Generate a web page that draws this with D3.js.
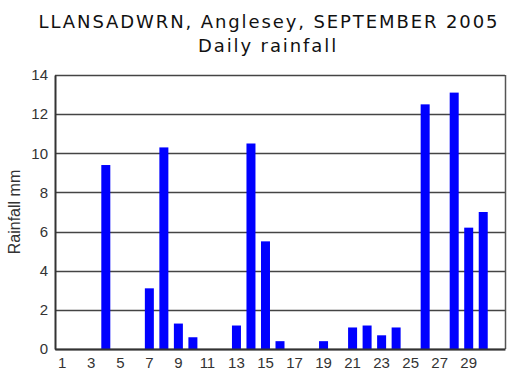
<!DOCTYPE html>
<html>
<head>
<meta charset="utf-8">
<script src="https://cdn.jsdelivr.net/npm/d3@7"></script>
<style>
  body { margin: 0; background: #fff; }
</style>
</head>
<body>
<script>
// daily rainfall, Sept 2005 (mm); days with no rain are 0
const days = d3.range(1, 32);
const rain = [0, 0, 0, 9.4, 0, 0, 3.1, 10.3, 1.3, 0.6,
              0, 0, 1.2, 10.5, 5.5, 0.4, 0, 0, 0.4, 0,
              1.1, 1.2, 0.7, 1.1, 0, 12.5, 0, 13.1, 6.2, 7.0, 0];
const yTicks = [0, 2, 4, 6, 8, 10, 12, 14];
const xLabels = d3.range(1, 30, 2);

const width = 532;
const height = 378;
const margin = {top: 75, right: 27, bottom: 29, left: 55};

const svg = d3.select("body").append("svg")
    .attr("width", width)
    .attr("height", height);

const titleStyle = sel => sel
    .attr("text-anchor", "middle")
    .style("font-family", "DejaVu Sans, Verdana, sans-serif")
    .style("font-size", "18px")
    .style("letter-spacing", "1.9px")
    .style("fill", "#111");

svg.append("text")
    .attr("x", 269).attr("y", 28)
    .call(titleStyle)
    .text("LLANSADWRN, Anglesey, SEPTEMBER 2005");

svg.append("text")
    .attr("x", 268).attr("y", 52)
    .call(titleStyle)
    .text("Daily rainfall");

const g = svg.append("g")
    .attr("transform", `translate(${margin.left}, ${margin.top})`);

const w = width - margin.left - margin.right;
const h = height - margin.top - margin.bottom;

const xscale = d3.scaleBand()
    .domain(days)
    .range([0, w])
    .paddingInner(0.38)
    .paddingOuter(0.19);

const yscale = d3.scaleLinear()
    .domain([0, 14])
    .range([h, 0]);

// gridlines
g.selectAll(".grid")
    .data(yTicks)
    .enter()
    .append("line")
    .attr("x1", 0).attr("x2", w)
    .attr("y1", d => Math.round(yscale(d)) + 0.5)
    .attr("y2", d => Math.round(yscale(d)) + 0.5)
    .attr("stroke", "#444")
    .attr("stroke-width", 1.5);

// right border
g.append("line")
    .attr("x1", w + 0.5).attr("x2", w + 0.5)
    .attr("y1", 0).attr("y2", h)
    .attr("stroke", "#555")
    .attr("stroke-width", 1.5);

g.selectAll(".bar")
    .data(days.map((d, i) => ({day: d, v: rain[i]})).filter(d => d.v > 0))
    .enter()
    .append("rect")
    .attr("x", d => xscale(d.day))
    .attr("y", d => yscale(d.v))
    .attr("width", xscale.bandwidth())
    .attr("height", d => h - yscale(d.v))
    .attr("fill", "#0000ff");

// axes
const yaxis = d3.axisLeft(yscale).tickValues(yTicks).tickSize(0).tickPadding(7);
const xaxis = d3.axisBottom(xscale).tickValues(xLabels).tickSize(0).tickPadding(8);

const ya = g.append("g").call(yaxis);
const xa = g.append("g").attr("transform", `translate(0, ${h})`).call(xaxis);

[ya, xa].forEach(a => {
    a.select(".domain").attr("stroke", "#333").attr("stroke-width", 2);
    a.selectAll("text")
        .style("font-family", "Liberation Sans, Arial, sans-serif")
        .style("font-size", "15px")
        .style("fill", "#333");
});

svg.append("text")
    .attr("transform", `translate(20, ${margin.top + h / 2}) rotate(-90)`)
    .attr("text-anchor", "middle")
    .style("font-family", "Liberation Sans, Arial, sans-serif")
    .style("font-size", "16px")
    .style("fill", "#333")
    .text("Rainfall mm");
</script>
</body>
</html>
